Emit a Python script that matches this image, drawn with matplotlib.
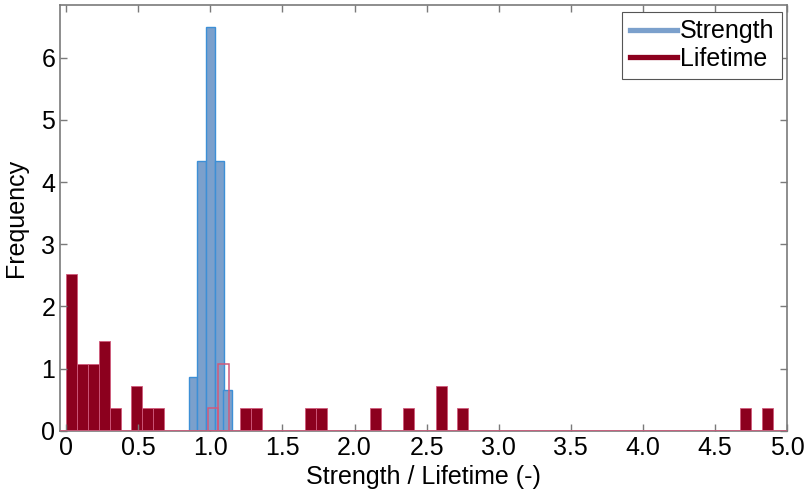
"""
Histogramme Strength / Lifetime
"""

import matplotlib
matplotlib.use("Agg")
import matplotlib.pyplot as plt
from matplotlib.lines import Line2D

plt.rcParams['font.family'] = ['Liberation Sans', 'DejaVu Sans']

# donnees
strength_x = [0.879, 0.939, 1.0, 1.061, 1.121]
strength_freq = [0.867, 4.333, 6.5, 4.333, 0.65]
strength_w = 0.0606

lifetime_x = [0.038, 0.113, 0.188, 0.264, 0.339, 0.490, 0.565, 0.641,
              1.018, 1.093, 1.244, 1.319, 1.696, 1.771, 2.148, 2.375,
              2.601, 2.752, 4.711, 4.862]
lifetime_freq = [2.52, 1.08, 1.08, 1.44, 0.36, 0.72, 0.36, 0.36,
                 0.36, 1.08, 0.36, 0.36, 0.36, 0.36, 0.36, 0.36,
                 0.72, 0.36, 0.36, 0.36]
lifetime_w = 0.0754

xticks = [0, 0.5, 1.0, 1.5, 2.0, 2.5, 3.0, 3.5, 4.0, 4.5, 5.0]
xtick_labels = ['0', '0.5', '1.0', '1.5', '2.0', '2.5', '3.0', '3.5', '4.0', '4.5', '5.0']
yticks = [0, 1, 2, 3, 4, 5, 6]

blue_face = '#7ba0cc'
blue_edge = '#3d8fd6'
red_face = '#8c001e'
red_edge = '#d05a7c'
spine_col = '#7a7a7a'

fig = plt.figure(figsize=(8.12, 4.93), dpi=100)
ax = fig.add_axes([0.0739, 0.1264, 0.8953, 0.8635])

# bars lifetime qui chevauchent strength -> seulement le contour
s_lo = strength_x[0] - strength_w/2
s_hi = strength_x[-1] + strength_w/2
filled = [not (s_lo < x < s_hi) for x in lifetime_x]

for x, h, f in zip(lifetime_x, lifetime_freq, filled):
    if f:
        ax.bar(x, h, width=lifetime_w, color=red_face, edgecolor=red_edge,
               linewidth=0.6, zorder=1)

ax.bar(strength_x, strength_freq, width=strength_w, color=blue_face,
       edgecolor=blue_edge, linewidth=1.0, zorder=2)

for x, h, f in zip(lifetime_x, lifetime_freq, filled):
    if not f:
        ax.bar(x, h, width=lifetime_w, facecolor='none', edgecolor=red_edge,
               linewidth=1.1, zorder=3)

# ligne de base du histogramme lifetime
ax.axhline(0, color=red_edge, lw=1.2, zorder=4)

ax.set_xlim(-0.043, 5.0)
ax.set_ylim(0, 6.85)
ax.set_xticks(xticks)
ax.set_xticklabels(xtick_labels)
ax.set_yticks(yticks)
ax.tick_params(direction='in', length=5, width=1, color=spine_col,
               top=True, right=True, labelsize=18, pad=3.5)
for s in ax.spines.values():
    s.set_color(spine_col)
    s.set_linewidth(1.2)

ax.set_xlabel('Strength / Lifetime (-)', fontsize=18, labelpad=4)
ax.set_ylabel('Frequency', fontsize=18)
ax.yaxis.set_label_coords(-0.044, 0.5)

handles = [Line2D([], [], color=blue_face, lw=3.8),
           Line2D([], [], color=red_face, lw=3.8)]
leg = ax.legend(handles, ['Strength', 'Lifetime'], loc='upper right',
                bbox_to_anchor=(0.9931, 0.9836), borderaxespad=0,
                fontsize=18, fancybox=False, framealpha=1, edgecolor='#555555',
                handlelength=1.9, handletextpad=0.1,
                borderpad=0.3, labelspacing=0.15)
leg.get_frame().set_linewidth(0.8)

fig.savefig('out.png', dpi=100)
